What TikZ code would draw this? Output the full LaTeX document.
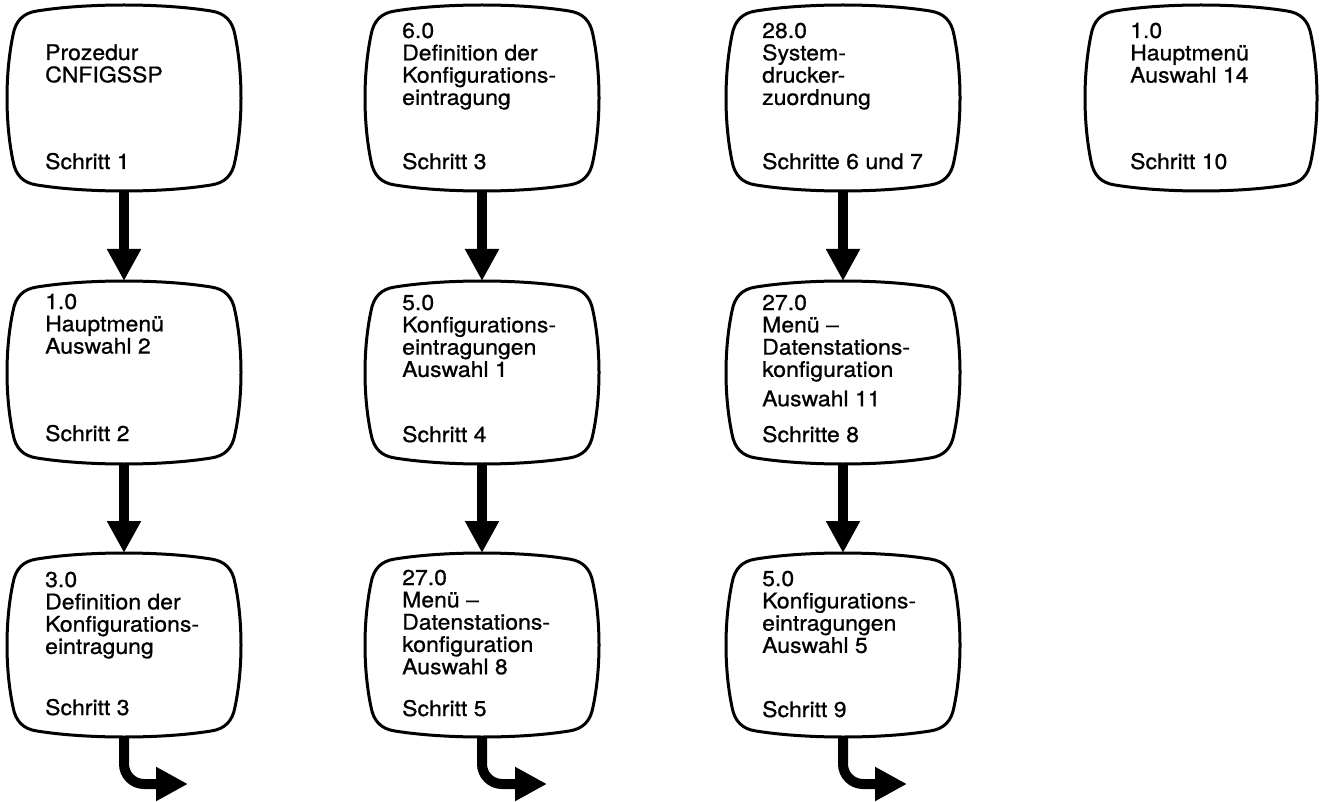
\documentclass[tikz,border=0pt]{standalone}
\usepackage{fontspec}
\setmainfont{TeX Gyre Heros}[FakeStretch=1.07,FakeBold=0.8]
\usetikzlibrary{arrows.meta,calc}

\tikzset{
  screen/.style={minimum width=234pt, minimum height=184pt, inner sep=0pt, outer sep=0pt},
  outline/.style={line width=3pt, line join=round},
  txt/.style={anchor=base west, inner sep=0pt, font=\fontsize{21.5}{22.3}\selectfont},
  arr/.style={line width=10pt, -{Triangle[width=32pt,length=32pt]}},
}

\newcommand\screenoutline[1]{%
\draw[outline] let \p1=(#1.north west), \p2=(#1.south east) in
({\x1+30pt},{\y1-6pt})
 .. controls ({\x1+0.34*(\x2-\x1)},{\y1+2pt}) and ({\x2-0.34*(\x2-\x1)},{\y1+2pt}) .. ({\x2-30pt},{\y1-6pt})
 .. controls ({\x2-16pt},{\y1-8pt}) and ({\x2-8.5pt},{\y1-16pt}) .. ({\x2-6pt},{\y1-30pt})
 .. controls ({\x2+2pt},{\y1-0.37*(\y1-\y2)}) and ({\x2+2pt},{\y2+0.37*(\y1-\y2)}) .. ({\x2-6pt},{\y2+30pt})
 .. controls ({\x2-8.5pt},{\y2+16pt}) and ({\x2-16pt},{\y2+8pt}) .. ({\x2-30pt},{\y2+6pt})
 .. controls ({\x2-0.34*(\x2-\x1)},{\y2-2pt}) and ({\x1+0.34*(\x2-\x1)},{\y2-2pt}) .. ({\x1+30pt},{\y2+6pt})
 .. controls ({\x1+16pt},{\y2+8pt}) and ({\x1+8.5pt},{\y2+16pt}) .. ({\x1+6pt},{\y2+30pt})
 .. controls ({\x1-2pt},{\y2+0.37*(\y1-\y2)}) and ({\x1-2pt},{\y1-0.37*(\y1-\y2)}) .. ({\x1+6pt},{\y1-30pt})
 .. controls ({\x1+8.5pt},{\y1-16pt}) and ({\x1+16pt},{\y1-8pt}) .. ({\x1+30pt},{\y1-6pt}) -- cycle;
}

\newcommand\lines[1]{\parbox[t]{240pt}{\raggedright #1}}

\begin{document}
\begin{tikzpicture}[x=1pt,y=-1pt]
\fill[white] (0,0) rectangle (1322,802);
\useasboundingbox (0,0) rectangle (1322,802);

% screen boxes
\node[screen, minimum height=186pt] (a1) at (124,98) {};
\node[screen, minimum height=183pt] (a2) at (124,372.5) {};
\node[screen] (a3) at (124,645) {};
\node[screen, minimum height=186pt] (b1) at (482,98) {};
\node[screen, minimum height=183pt] (b2) at (482,372.5) {};
\node[screen] (b3) at (482,645) {};
\node[screen, minimum height=186pt] (c1) at (843,98) {};
\node[screen, minimum height=183pt] (c2) at (843,372.5) {};
\node[screen] (c3) at (843,645) {};
\node[screen, minimum height=186pt, minimum width=232pt] (d1) at (1201,98) {};

\foreach \bx in {a1,a2,a3,b1,b2,b3,c1,c2,c3,d1} {\screenoutline{\bx}}

% texts
\node[txt] (a1t) at (45,60) {\lines{Prozedur\\CNFIGSSP}};
\node[txt] (a1s) at (45,169) {Schritt 1};
\node[txt] (b1t) at (402,38) {\lines{6.0\\Definition der\\Konfigurations-\\eintragung}};
\node[txt] (b1s) at (402,169) {Schritt 3};
\node[txt] (c1t) at (762,38) {\lines{28.0\\System-\\drucker-\\zuordnung}};
\node[txt] (c1s) at (762,169) {Schritte 6 und 7};
\node[txt] (d1t) at (1130,38) {\lines{1.0\\Hauptmenü\\Auswahl 14}};
\node[txt] (d1s) at (1130,169) {Schritt 10};

\node[txt] (a2t) at (45,309) {\lines{1.0\\Hauptmenü\\Auswahl 2}};
\node[txt] (a2s) at (45,441) {Schritt 2};
\node[txt] (b2t) at (402,310) {\lines{5.0\\Konfigurations-\\eintragungen\\Auswahl 1}};
\node[txt] (b2s) at (402,442) {Schritt 4};
\node[txt] (c2t) at (762,310) {\lines{27.0\\Menü –\\Datenstations-\\konfiguration\\[7pt]Auswahl 11}};
\node[txt] (c2s) at (762,442) {Schritte 8};

\node[txt] (a3t) at (45,587) {\lines{3.0\\Definition der\\Konfigurations-\\eintragung}};
\node[txt] (a3s) at (45,715) {Schritt 3};
\node[txt] (b3t) at (402,585) {\lines{27.0\\Menü –\\Datenstations-\\konfiguration\\Auswahl 8}};
\node[txt] (b3s) at (402,716) {Schritt 5};
\node[txt] (c3t) at (762,586) {\lines{5.0\\Konfigurations-\\eintragungen\\Auswahl 5}};
\node[txt] (c3s) at (762,717) {Schritt 9};

% arrows
\draw[arr] (a1.south) -- (a2.north);
\draw[arr] (a2.south) -- (a3.north);
\draw[arr] (b1.south) -- (b2.north);
\draw[arr] (b2.south) -- (b3.north);
\draw[arr] (c1.south) -- (c2.north);
\draw[arr] (c2.south) -- (c3.north);

\coordinate (a3e) at (188,784);
\coordinate (b3e) at (547,784);
\coordinate (c3e) at (907,784);
\draw[arr, rounded corners=20pt] (a3.south) |- (a3e);
\draw[arr, rounded corners=20pt] (b3.south) |- (b3e);
\draw[arr, rounded corners=20pt] (c3.south) |- (c3e);
\end{tikzpicture}
\end{document}
